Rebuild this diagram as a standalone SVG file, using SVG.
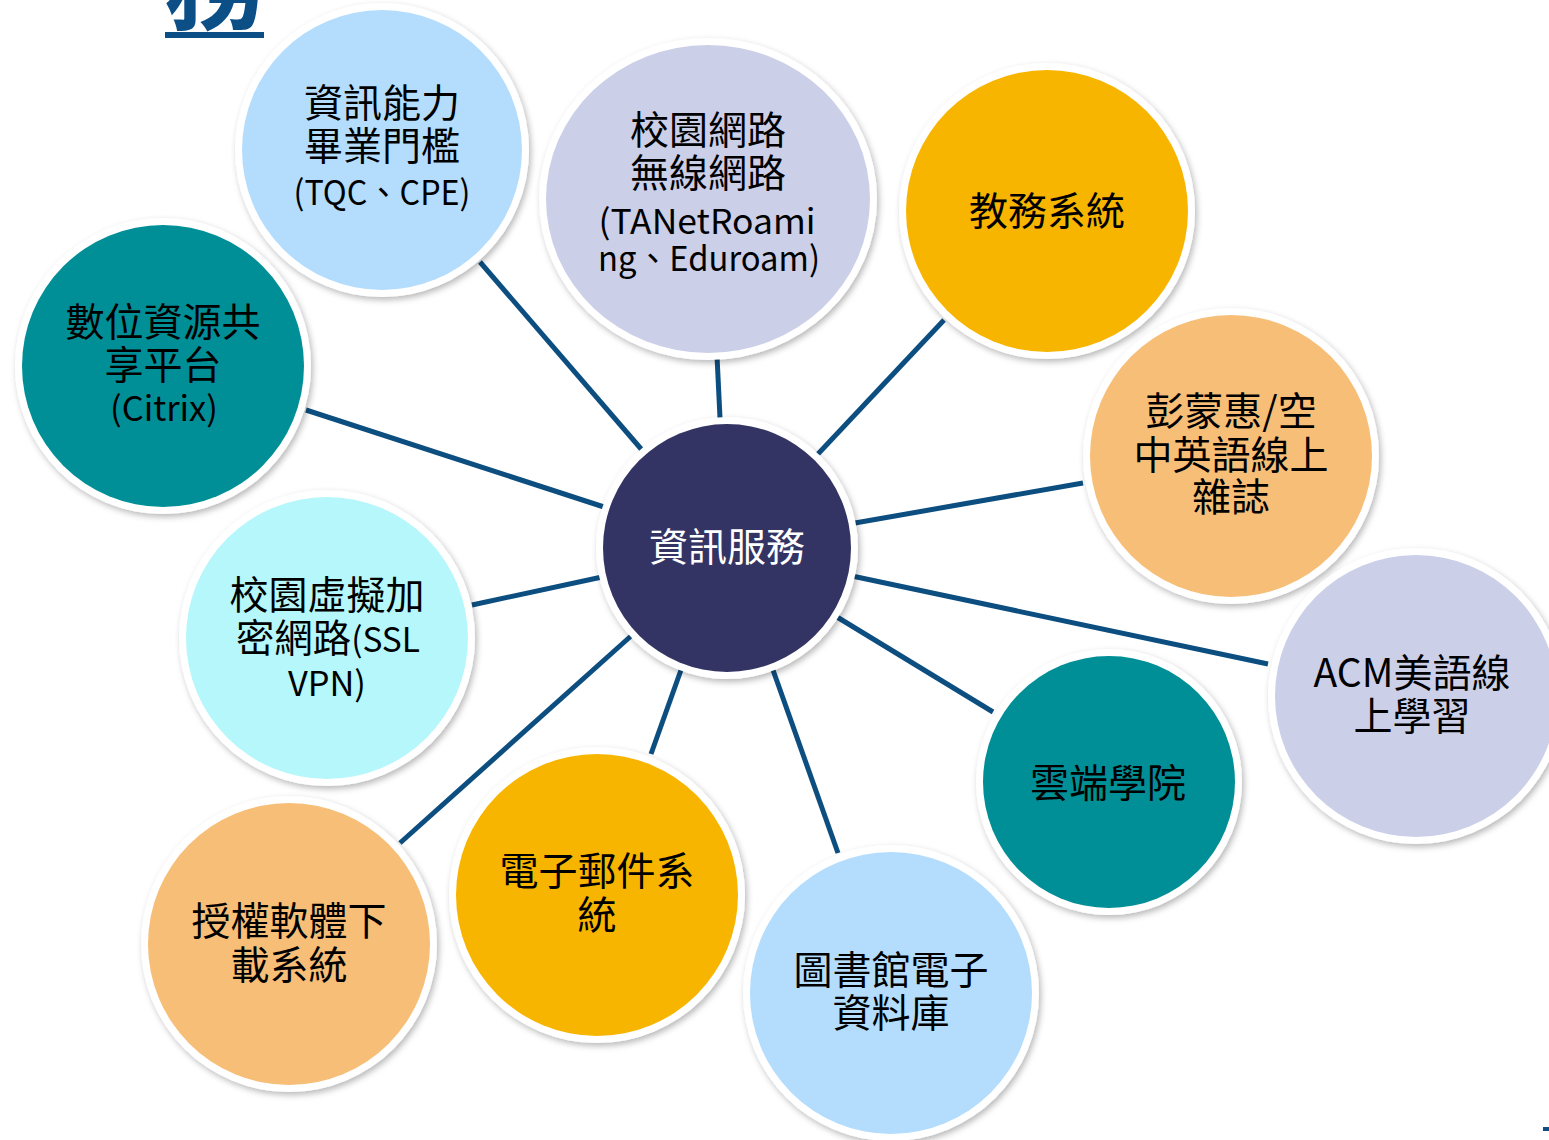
<svg xmlns="http://www.w3.org/2000/svg" width="1549" height="1140" viewBox="0 0 1549 1140">
<defs>
<filter id="sh" x="-20%" y="-20%" width="140%" height="140%">
<feDropShadow dx="2" dy="3" stdDeviation="3" flood-color="#000" flood-opacity="0.28"/>
</filter>
<style>
.ring{fill:#ffffff;filter:url(#sh);}
.t{font-family:"Noto Sans CJK TC","Noto Sans CJK SC",sans-serif;font-size:39px;fill:#000;text-anchor:middle;}
.l{font-size:34px;}
.w{fill:#ffffff;}
.c{stroke:#0D4E80;stroke-width:5;fill:none;}
.lb{fill:#B4DDFD;}
.lv{fill:#CBCFE8;}
.yl{fill:#F8B500;}
.or{fill:#F7BE77;}
.tl{fill:#008F96;}
.cy{fill:#B6F7FB;}
.nv{fill:#343464;}
</style>
</defs>
<rect width="1549" height="1140" fill="#ffffff"/>
<text x="214" y="22" font-family="Noto Sans CJK TC, sans-serif" font-size="100" font-weight="bold" fill="#0B4F86" text-anchor="middle">務</text>
<rect x="165" y="32" width="99" height="6" fill="#0B4F86"/>
<rect x="1543" y="1127" width="6" height="4" fill="#0B4F86"/>
<g id="connectors">
<line class="c" x1="642" y1="450" x2="480" y2="262"/>
<line class="c" x1="720" y1="418" x2="717" y2="356"/>
<line class="c" x1="817" y1="455" x2="944" y2="320"/>
<line class="c" x1="855" y1="523" x2="1083" y2="483"/>
<line class="c" x1="852" y1="576" x2="1268" y2="664"/>
<line class="c" x1="837" y1="617" x2="993" y2="712"/>
<line class="c" x1="773" y1="670" x2="838" y2="853"/>
<line class="c" x1="681" y1="670" x2="651" y2="754"/>
<line class="c" x1="631" y1="636" x2="400" y2="843"/>
<line class="c" x1="602" y1="577" x2="472" y2="605"/>
<line class="c" x1="604" y1="507" x2="306" y2="410"/>
</g>
<g id="n-center">
<circle class="ring" cx="727" cy="548" r="131"/>
<circle class="nv" cx="727" cy="548" r="124"/>
<text class="t w" x="727" y="561">資訊服務</text>
</g>
<g id="n-tqc">
<circle class="ring" cx="382" cy="150" r="147"/>
<circle class="lb" cx="382" cy="150" r="140"/>
<text class="t" x="382" y="117">資訊能力</text>
<text class="t" x="382" y="160">畢業門檻</text>
<text class="t l" x="382" y="205" textLength="177" lengthAdjust="spacingAndGlyphs">(TQC、CPE)</text>
</g>
<g id="n-net">
<ellipse class="ring" cx="708" cy="199" rx="169" ry="161"/>
<ellipse class="lv" cx="708" cy="199" rx="162" ry="154"/>
<text class="t" x="708" y="144">校園網路</text>
<text class="t" x="708" y="187">無線網路</text>
<text class="t l" x="707" y="234" textLength="217" lengthAdjust="spacingAndGlyphs">(TANetRoami</text>
<text class="t l" x="709" y="271" textLength="222" lengthAdjust="spacingAndGlyphs">ng、Eduroam)</text>
</g>
<g id="n-acad">
<circle class="ring" cx="1047" cy="211" r="148"/>
<circle class="yl" cx="1047" cy="211" r="141"/>
<text class="t" x="1047" y="225">教務系統</text>
</g>
<g id="n-mag">
<circle class="ring" cx="1231" cy="456" r="148"/>
<circle class="or" cx="1231" cy="456" r="141"/>
<text class="t" x="1231" y="425">彭蒙惠/空</text>
<text class="t" x="1231" y="469">中英語線上</text>
<text class="t" x="1231" y="511">雜誌</text>
</g>
<g id="n-acm">
<circle class="ring" cx="1416" cy="696" r="148"/>
<circle class="lv" cx="1416" cy="696" r="141"/>
<text class="t" x="1412" y="687">ACM美語線</text>
<text class="t" x="1412" y="730">上學習</text>
</g>
<g id="n-cloud">
<circle class="ring" cx="1109" cy="782" r="133"/>
<circle class="tl" cx="1109" cy="782" r="126"/>
<text class="t" x="1108" y="797">雲端學院</text>
</g>
<g id="n-lib">
<circle class="ring" cx="891" cy="993" r="148"/>
<circle class="lb" cx="891" cy="993" r="141"/>
<text class="t" x="891" y="984">圖書館電子</text>
<text class="t" x="891" y="1027">資料庫</text>
</g>
<g id="n-mail">
<circle class="ring" cx="597" cy="895" r="148"/>
<circle class="yl" cx="597" cy="895" r="141"/>
<text class="t" x="597" y="885">電子郵件系</text>
<text class="t" x="597" y="929">統</text>
</g>
<g id="n-soft">
<circle class="ring" cx="289" cy="944" r="148"/>
<circle class="or" cx="289" cy="944" r="141"/>
<text class="t" x="289" y="935">授權軟體下</text>
<text class="t" x="289" y="979">載系統</text>
</g>
<g id="n-vpn">
<circle class="ring" cx="327" cy="638" r="148"/>
<circle class="cy" cx="327" cy="638" r="141"/>
<text class="t" x="327" y="609">校園虛擬加</text>
<text class="t" x="328" y="652" textLength="184" lengthAdjust="spacingAndGlyphs">密網路<tspan class="l">(SSL</tspan></text>
<text class="t l" x="327" y="696" textLength="78" lengthAdjust="spacingAndGlyphs">VPN)</text>
</g>
<g id="n-citrix">
<circle class="ring" cx="163" cy="366" r="148"/>
<circle class="tl" cx="163" cy="366" r="141"/>
<text class="t" x="163" y="336">數位資源共</text>
<text class="t" x="163" y="379">享平台</text>
<text class="t l" x="164" y="421" textLength="108" lengthAdjust="spacingAndGlyphs">(Citrix)</text>
</g>
</svg>
